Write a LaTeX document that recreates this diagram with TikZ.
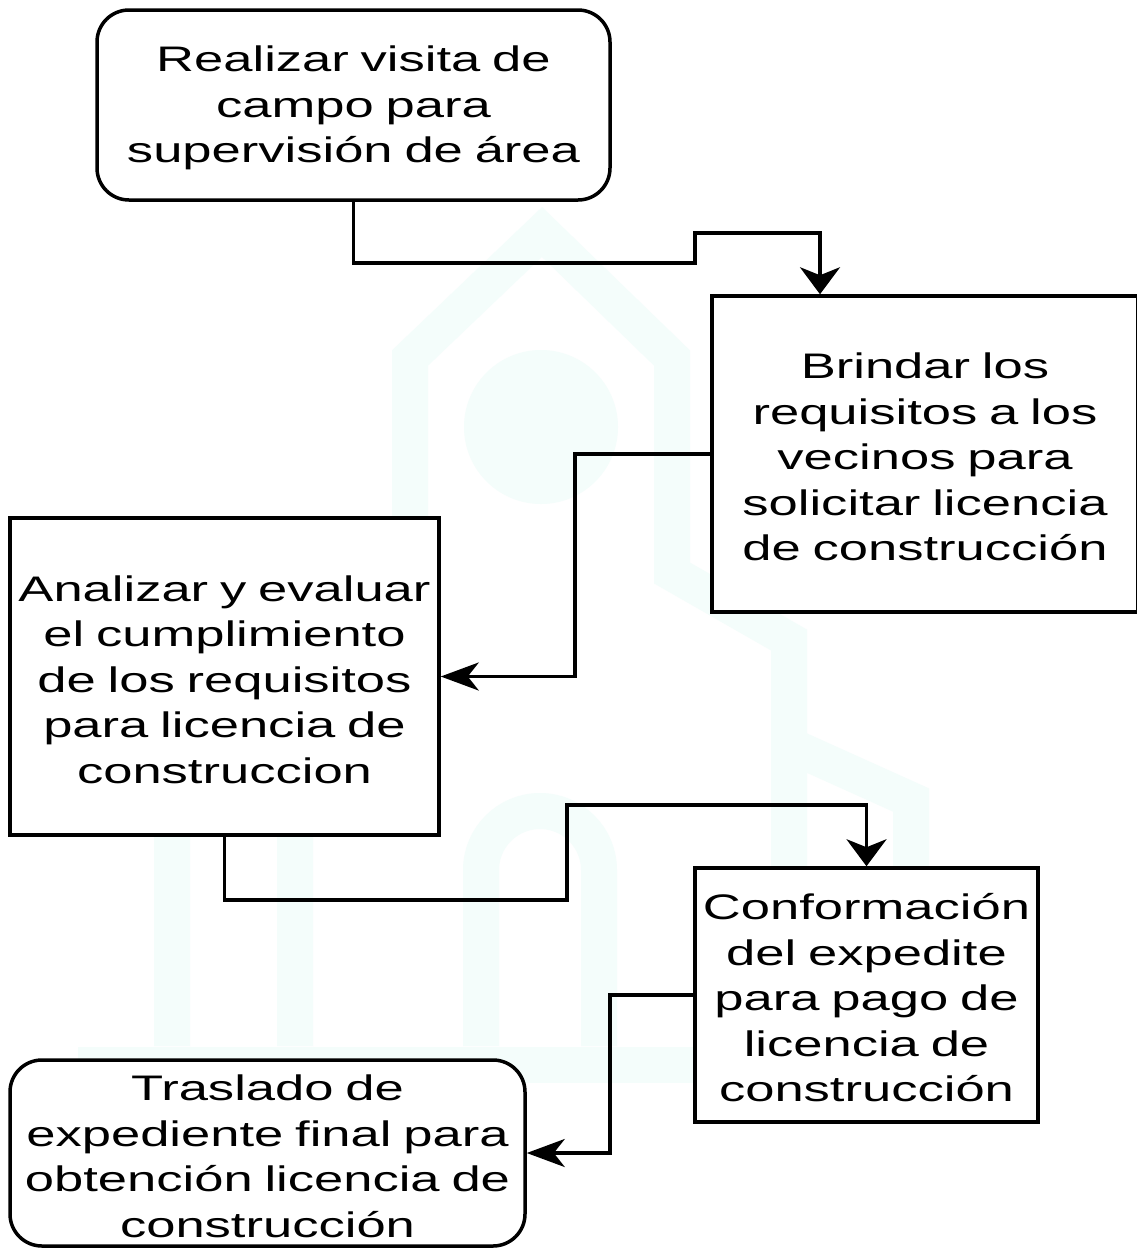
\documentclass[tikz,border=0pt]{standalone}
\usepackage{fontspec}
\setmainfont{Liberation Sans}[FakeStretch=1.48]
\usetikzlibrary{arrows.meta}
\definecolor{wm}{RGB}{244,253,251}
\begin{document}
\begin{tikzpicture}[x=1pt,y=-1pt,
  box/.style={draw, line width=3.5pt, fill=white, inner sep=0pt, align=center,
    font=\fontsize{35.5}{45.5}\selectfont},
  conn/.style={line width=3.5pt, line join=miter},
  varr/.style={-{Stealth[length=27pt,width=40pt,inset=8pt]}},
  harr/.style={-{Stealth[length=38pt,width=28pt,inset=11pt]}},
  wmline/.style={draw=wm, line width=36pt, line join=miter}
]
\useasboundingbox (0,0) rectangle (1136,1248);
\fill[white] (0,0) rectangle (1136,1248);

% faint watermark
\draw[wmline] (295,1046) -- (295,640) -- (410,573) -- (410,358) -- (542,232)
  -- (672,358) -- (672,573) -- (789,640) -- (789,1046);
\draw[wmline] (295,745) -- (172,800) -- (172,1046);
\draw[wmline] (789,745) -- (911,800) -- (911,1046);
\draw[wmline] (481,1046) -- (481,870) arc(180:360:59) -- (599,1046);
\draw[wmline] (78,1065) -- (1006,1065);
\fill[wm] (541,427) circle (77);

% boxes
\node[box, rounded corners=32pt, minimum width=513pt, minimum height=190pt, text width=509pt]
  (b1) at (353.5,105) {\strut Realizar visita de\\campo para\\supervisión de área};
\node[box, minimum width=426pt, minimum height=316pt, text width=416pt]
  (b2) at (925,454) {\strut Brindar los\\requisitos a los\\vecinos para\\solicitar licencia\\de construcción};
\node[box, minimum width=429pt, minimum height=317pt, text width=427pt]
  (b3) at (224.5,676.5) {\strut Analizar y evaluar\\el cumplimiento\\de los requisitos\\para licencia de\\construccion};
\node[box, minimum width=343pt, minimum height=254pt, text width=339pt]
  (b4) at (866.5,995) {\strut Conformación\\del expedite\\para pago de\\licencia de\\construcción};
\node[box, rounded corners=32pt, minimum width=515pt, minimum height=186pt, text width=511pt]
  (b5) at (267.5,1153) {\strut Traslado de\\expediente final para\\obtención licencia de\\construcción};

% connectors
\coordinate (c1a) at (695,263);
\coordinate (c1b) at (820,233);
\draw[conn,varr] (b1.south) |- (c1a) |- (c1b) -- (c1b |- b2.north);

\coordinate (c2) at (575,0);
\draw[conn,harr] (b2.west) -- (b2.west -| c2) -- (c2 |- b3.east) -- (b3.east);

\coordinate (c3a) at (567,900);
\coordinate (c3b) at (866.5,805);
\draw[conn,varr] (b3.south) |- (c3a) |- (c3b) -- (c3b |- b4.north);

\coordinate (c4) at (610,0);
\draw[conn,harr] (b4.west) -- (b4.west -| c4) -- (c4 |- b5.east) -- (b5.east);
\end{tikzpicture}
\end{document}
